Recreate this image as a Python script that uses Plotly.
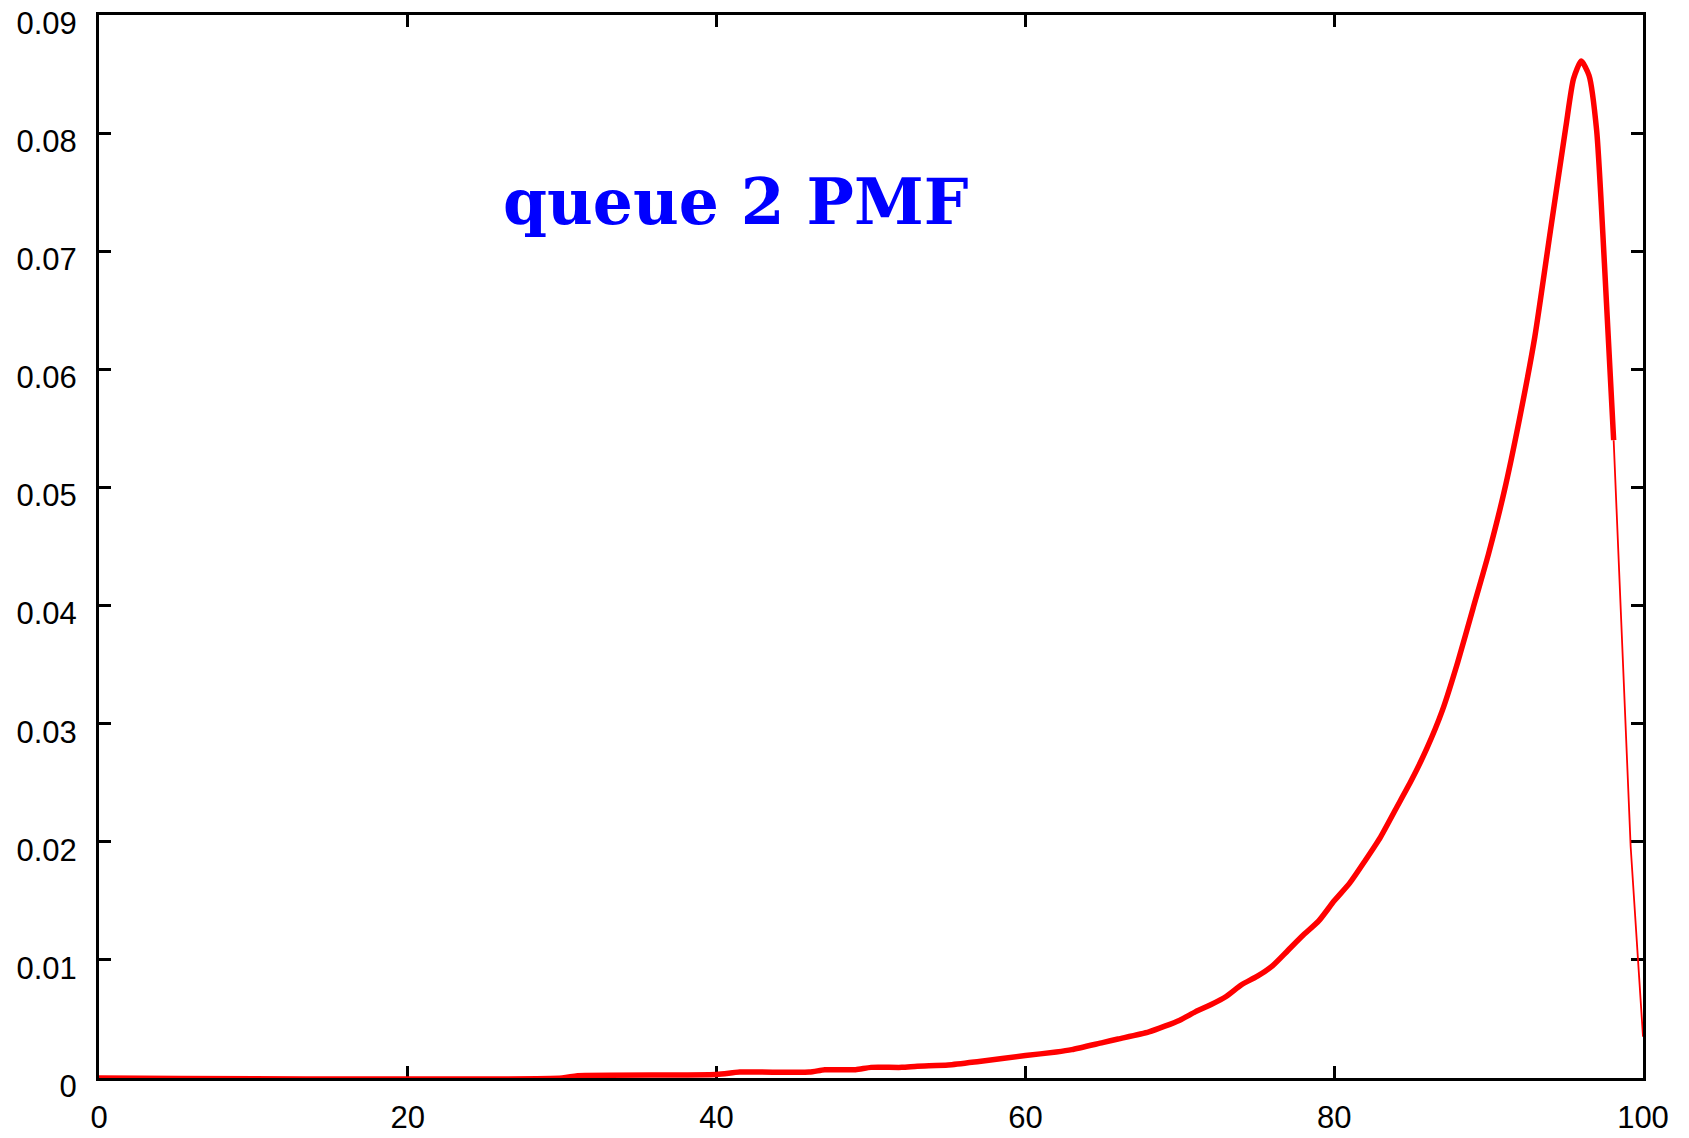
import plotly.graph_objects as go

# Main (thick) PMF curve
x_main = [0, 30, 31, 40, 41.5, 46, 47, 49, 50, 52, 53, 55, 57, 60, 62, 63, 65, 66,
          68, 70, 71, 72, 73, 74, 75, 76, 77, 78, 79, 80, 81, 82, 83, 84, 85, 86,
          87, 88, 89, 90, 91, 92, 93, 94, 95, 95.5, 96, 96.5, 97, 97.5, 98.1]
y_main = [0, 0, 0.0002, 0.0003, 0.0005, 0.0005, 0.0007, 0.0007, 0.0009, 0.0009, 0.001,
          0.0011, 0.0014, 0.0019, 0.0022, 0.0024, 0.003, 0.0033, 0.0039, 0.0049,
          0.0056, 0.0062, 0.0069, 0.0079, 0.0086, 0.0095, 0.0108, 0.0121, 0.0133,
          0.015, 0.0165, 0.0184, 0.0204, 0.0228, 0.0252, 0.0279, 0.0311, 0.0352,
          0.0398, 0.0444, 0.0496, 0.0558, 0.0628, 0.0717, 0.0805, 0.0846, 0.0861,
          0.0849, 0.0802, 0.069, 0.054]

# Thin tail segment
x_tail = [98.1, 99.2, 100]
y_tail = [0.054, 0.0196, 0.0035]

x_ticks = [0, 20, 40, 60, 80, 100]
y_ticks = [0, 0.01, 0.02, 0.03, 0.04, 0.05, 0.06, 0.07, 0.08, 0.09]
y_tick_text = ["0", "0.01", "0.02", "0.03", "0.04", "0.05", "0.06", "0.07", "0.08", "0.09"]

title_text = "queue 2 PMF"

fig = go.Figure()
fig.add_trace(go.Scatter(x=x_tail, y=y_tail, mode="lines",
                         line=dict(color="#ff0000", width=1.8), showlegend=False))
fig.add_trace(go.Scatter(x=x_main, y=y_main, mode="lines",
                         line=dict(color="#ff0000", width=5.5, shape="spline", smoothing=0.6),
                         showlegend=False))

fig.add_annotation(x=41.25, y=0.0742, xref="x", yref="y", text="<b>" + title_text + "</b>",
                   showarrow=False, xanchor="center", yanchor="middle",
                   font=dict(family="DejaVu Serif", size=63, color="#0000ff"))

axis_common = dict(showline=True, linecolor="black", linewidth=3, mirror="allticks",
                   ticks="inside", ticklen=12, tickwidth=3, tickcolor="black",
                   showgrid=False, zeroline=False, automargin=False,
                   ticklabeloverflow="allow",
                   tickfont=dict(family="Liberation Sans", size=31, color="black"))

fig.update_xaxes(range=[0, 100], tickvals=x_ticks, ticktext=[str(v) for v in x_ticks],
                 layer="below traces", ticklabelstandoff=10, **axis_common)
fig.update_yaxes(range=[0, 0.09], tickvals=y_ticks, ticktext=y_tick_text,
                 layer="below traces", ticklabelstandoff=13, ticklabelshift=8,
                 **axis_common)

# page body has an 8px margin, so the figure is offset by 8px inside the window
fig.update_layout(width=1673, height=1130, plot_bgcolor="white", paper_bgcolor="white",
                  margin=dict(l=91, r=38, t=7, b=60))

fig.write_html("out.html")
